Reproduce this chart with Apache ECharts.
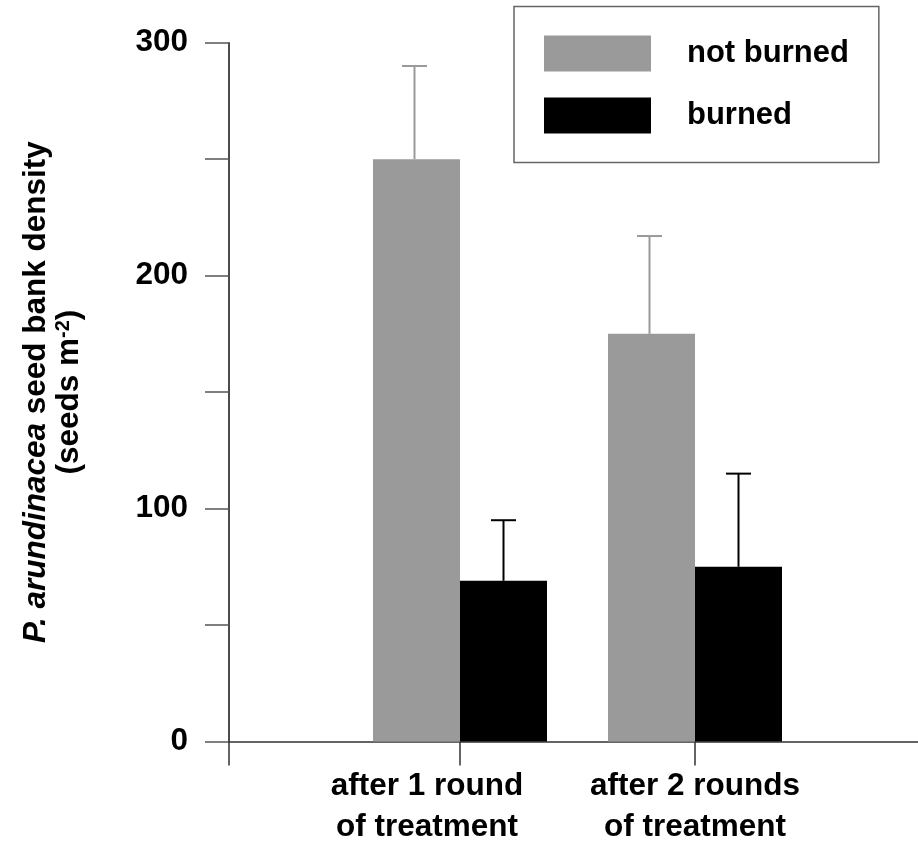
<!DOCTYPE html>
<html>
<head>
<meta charset="utf-8">
<script src="https://cdn.jsdelivr.net/npm/echarts@6/dist/echarts.min.js"></script>
<style>
  html, body { margin: 0; padding: 0; background: #fff; }
  #chart { width: 918px; height: 843px; }
</style>
</head>
<body>
<div id="chart"></div>
<script>
// Treatment groups, placed at x = 1 and x = 2 on the horizontal axis
const categories = ['after 1 round\nof treatment', 'after 2 rounds\nof treatment'];
const groupPos = [1, 2];

// Seed bank density (seeds per m²): means and standard errors
const notBurned = [250, 175];
const notBurnedErr = [40, 42];
const burned = [69, 75];
const burnedErr = [26, 40];

const yTicks = [0, 100, 200, 300];

const FONT = '"Liberation Sans", Arial, Helvetica, sans-serif';
const GREY = '#9a9a9a';
const BAR_W = 87;
const FS = 31.5;

const chart = echarts.init(document.getElementById('chart'), null, { renderer: 'canvas' });

function errorSeries(name, means, errs, color, offset) {
  return {
    type: 'custom',
    name: name + ' error',
    silent: true,
    z: 3,
    data: groupPos.map((x, i) => [x, means[i], means[i] + errs[i]]),
    renderItem: function (params, api) {
      const base = api.coord([api.value(0), api.value(1)]);
      const top = api.coord([api.value(0), api.value(2)]);
      const cx = base[0] + offset;
      const style = { stroke: color, lineWidth: 2 };
      return {
        type: 'group',
        children: [
          { type: 'line', shape: { x1: cx, y1: base[1], x2: cx, y2: top[1] }, style: style },
          { type: 'line', shape: { x1: cx - 12.5, y1: top[1], x2: cx + 12.5, y2: top[1] }, style: style }
        ]
      };
    }
  };
}

const xMin = 1 - 231 / 235;
const xMax = 2 + 223 / 235;

chart.setOption({
  animation: false,
  backgroundColor: '#fff',
  grid: {
    left: 229, right: 0, top: 42.7, bottom: 843 - 741.5,
    containLabel: false, outerBoundsMode: 'none'
  },
  legend: {
    orient: 'vertical',
    left: 514,
    top: 6.5,
    padding: [29, 30, 29, 30],
    itemGap: 26,
    itemWidth: 107,
    itemHeight: 36,
    borderColor: '#666',
    borderWidth: 1.5,
    icon: 'rect',
    data: ['not burned', 'burned'],
    textStyle: {
      fontFamily: FONT, fontSize: 31, fontWeight: 'bold', color: '#000',
      padding: [0, 0, 0, 31]
    }
  },
  xAxis: {
    type: 'value',
    min: xMin,
    max: xMax,
    splitLine: { show: false },
    axisLine: { show: true, lineStyle: { color: '#333', width: 1.5 } },
    axisTick: {
      show: true, length: 24, lineStyle: { color: '#333', width: 1.5 },
      customValues: [xMin].concat(groupPos)
    },
    axisLabel: {
      customValues: groupPos,
      formatter: function (v) {
        const i = groupPos.indexOf(v);
        if (i < 0) return '';
        // the first group's label sits a little left of its tick
        const tag = i === 0 ? 'left' : 'mid';
        return categories[i].split('\n').map(s => '{' + tag + '|' + s + '}').join('\n');
      },
      fontFamily: FONT, fontSize: FS, fontWeight: 'bold', color: '#000',
      lineHeight: 41, margin: 24,
      rich: {
        left: { fontFamily: FONT, fontSize: FS, fontWeight: 'bold', color: '#000', lineHeight: 41, padding: [0, 66, 0, 0] },
        mid: { fontFamily: FONT, fontSize: FS, fontWeight: 'bold', color: '#000', lineHeight: 41 }
      }
    }
  },
  yAxis: {
    type: 'value',
    min: 0,
    max: 300,
    interval: 50,
    splitLine: { show: false },
    axisLine: { show: true, lineStyle: { color: '#111', width: 1.5 } },
    axisTick: { show: true, length: 24, lineStyle: { color: '#555', width: 1.5 } },
    axisLabel: {
      formatter: function (v) { return yTicks.indexOf(v) >= 0 ? String(v) : ''; },
      fontFamily: FONT, fontSize: FS, fontWeight: 'bold', color: '#000',
      margin: 41
    },
    name: '{it|P. arundinacea} seed bank density\n(seeds m{sup|-2})',
    nameLocation: 'middle',
    nameRotate: 90,
    nameGap: 143,
    nameTextStyle: {
      fontFamily: FONT, fontSize: FS, fontWeight: 'bold', color: '#000',
      lineHeight: 33,
      rich: {
        it: { fontFamily: FONT, fontSize: FS, fontWeight: 'bold', fontStyle: 'italic', color: '#000' },
        sup: { fontFamily: FONT, fontSize: 20, fontWeight: 'bold', color: '#000', verticalAlign: 'top', lineHeight: 20 }
      }
    }
  },
  series: [
    {
      name: 'not burned',
      type: 'bar',
      barWidth: BAR_W,
      barGap: '0%',
      itemStyle: { color: GREY },
      data: groupPos.map((x, i) => [x, notBurned[i]])
    },
    {
      name: 'burned',
      type: 'bar',
      barWidth: BAR_W,
      barGap: '0%',
      itemStyle: { color: '#000' },
      data: groupPos.map((x, i) => [x, burned[i]])
    },
    errorSeries('not burned', notBurned, notBurnedErr, GREY, -BAR_W / 2 - 2),
    errorSeries('burned', burned, burnedErr, '#000', BAR_W / 2)
  ]
});
</script>
</body>
</html>
